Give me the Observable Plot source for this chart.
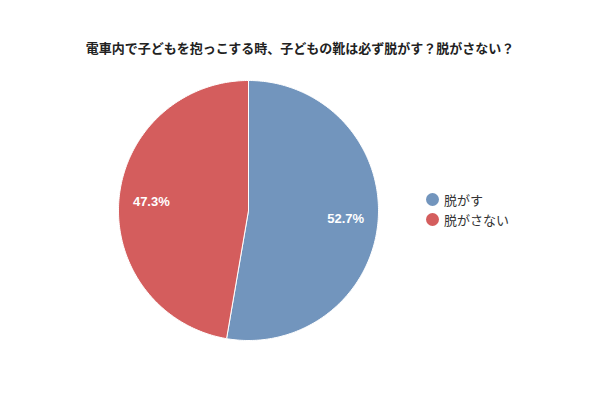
<!DOCTYPE html>
<html>
<head>
<meta charset="utf-8">
<script src="https://cdn.jsdelivr.net/npm/d3@7"></script>
<script src="https://cdn.jsdelivr.net/npm/@observablehq/plot@0.6"></script>
<style>
  body { margin: 0; background: #fff; font-family: "Noto Sans CJK JP", "Liberation Sans", sans-serif; }
  #wrap { position: relative; width: 600px; height: 400px; }
  #title { position: absolute; left: 0; top: 38px; width: 600px; text-align: center; font-size: 13px; font-weight: bold; color: #222; }
  #legend { position: absolute; left: 426px; top: 189px; font-size: 13px; color: #333; }
  .li { display: flex; align-items: center; height: 20px; }
  .sw { width: 13px; height: 13px; border-radius: 50%; margin-right: 5px; }
</style>
</head>
<body>
<div id="wrap">
  <div id="title"></div>
  <div id="chart"></div>
  <div id="legend"></div>
</div>
<script>
const title = "電車内で子どもを抱っこする時、子どもの靴は必ず脱がす？脱がさない？";
const categories = ["脱がす", "脱がさない"];
const values = [52.7, 47.3];
const colors = ["#7295bd", "#d45d5d"];

document.getElementById("title").textContent = title;

const total = d3.sum(values);
const pie = d3.pie().sort(null).value(d => d)(values);
// build polygon outline for each slice (unit radius), from data angles
const slicePts = [];
pie.forEach((p, i) => {
  const n = 200;
  slicePts.push({cat: categories[i], x: 0, y: 0});
  for (let k = 0; k <= n; k++) {
    const a = p.startAngle + (p.endAngle - p.startAngle) * k / n;
    slicePts.push({cat: categories[i], x: Math.sin(a), y: Math.cos(a)});
  }
  slicePts.push({cat: categories[i], x: 0, y: 0});
});
const labels = pie.map((p, i) => {
  const a = (p.startAngle + p.endAngle) / 2;
  return {x: 0.75 * Math.sin(a), y: 0.75 * Math.cos(a), text: (values[i] / total * 100).toFixed(1) + "%"};
});

const chart = Plot.plot({
  width: 600, height: 400,
  margin: 0,
  x: {domain: [-248/130, 352/130], axis: null},
  y: {domain: [-190/130, 210/130], axis: null},
  color: {domain: categories, range: colors},
  marks: [
    Plot.line(slicePts, {x: "x", y: "y", z: "cat", fill: "cat", stroke: "white", strokeWidth: 1, curve: "linear"}),
    Plot.text(labels, {x: "x", y: "y", text: "text", fill: "white", fontSize: 13, fontWeight: "bold", fontFamily: "Liberation Sans, sans-serif"})
  ]
});
document.getElementById("chart").appendChild(chart);

const leg = document.getElementById("legend");
categories.forEach((c, i) => {
  const row = document.createElement("div");
  row.className = "li";
  row.innerHTML = `<span class="sw" style="background:${colors[i]}"></span><span></span>`;
  row.lastChild.textContent = c;
  leg.appendChild(row);
});
</script>
</body>
</html>
